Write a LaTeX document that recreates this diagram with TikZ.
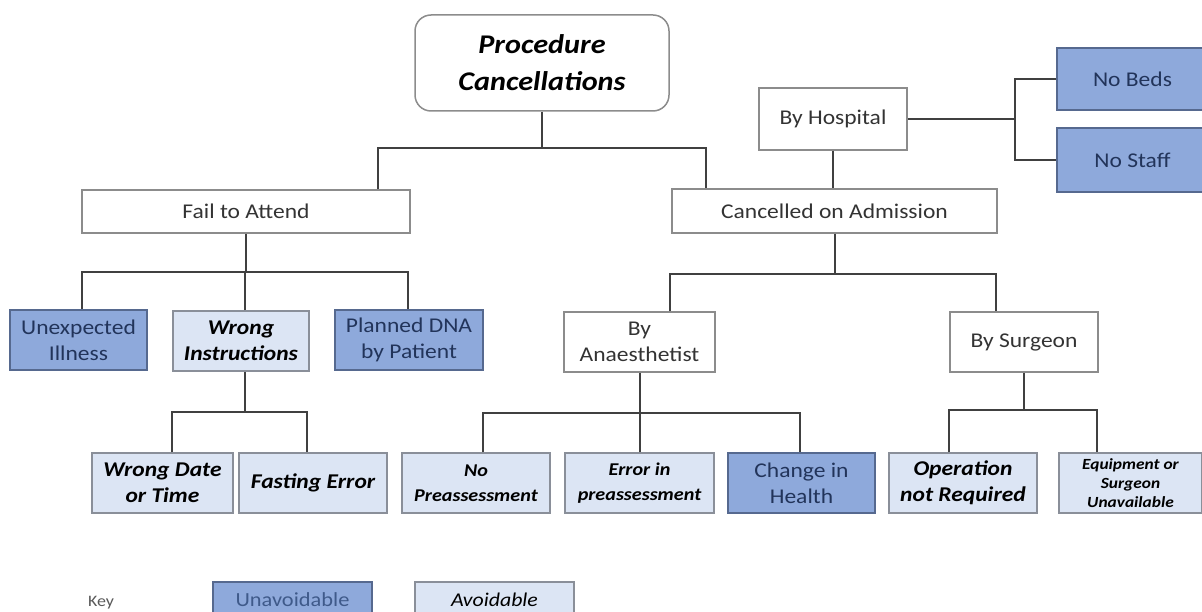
\documentclass[tikz,border=0pt]{standalone}
\usepackage{fontspec}
\setmainfont{Carlito}[FakeStretch=1.12]
\usetikzlibrary{calc}
\definecolor{darkfill}{HTML}{8EA9DB}
\definecolor{lightfill}{HTML}{DCE5F4}
\definecolor{darktext}{HTML}{22345A}
\definecolor{darkborder}{HTML}{56698F}
\definecolor{lightborder}{HTML}{8A8F99}
\definecolor{whiteborder}{HTML}{8C8C8C}
\definecolor{conn}{HTML}{404040}
\definecolor{keyblue}{HTML}{3F5A8A}
\tikzset{
  basebox/.style={rectangle, inner sep=0pt, align=center, line width=1.5pt},
  whitebox/.style={basebox, draw=whiteborder, fill=white, text=black!80,
    font=\fontsize{21}{26}\selectfont},
  darkbox/.style={basebox, draw=darkborder, fill=darkfill, text=darktext,
    font=\fontsize{21}{26}\selectfont},
  lightbox/.style={basebox, draw=lightborder, fill=lightfill, text=black,
    font=\bfseries\itshape\fontsize{21}{26}\selectfont},
  wire/.style={draw=conn, line width=2pt},
}
\begin{document}
\begin{tikzpicture}[x=1pt,y=-1pt]
\useasboundingbox (0,0) rectangle (1202,612);
% top
\node[whitebox, rounded corners=16pt, minimum width=254pt, minimum height=96pt,
  font=\bfseries\itshape\fontsize{27}{37}\selectfont, text=black] (top) at (542,63) {Procedure\\Cancellations};
\node[whitebox, minimum width=148pt, minimum height=62pt] (hosp) at (833,119) {By Hospital};
\node[darkbox, minimum width=151pt, minimum height=62pt] (beds) at (1132.5,79) {No Beds};
\node[darkbox, minimum width=151pt, minimum height=64pt] (staff) at (1132.5,160) {No Staff};
\node[whitebox, minimum width=328pt, minimum height=43pt] (fail) at (246,211.5) {Fail to Attend};
\node[whitebox, minimum width=325pt, minimum height=44pt] (cancel) at (834.5,211) {Cancelled on Admission};
% level 3
\node[darkbox, minimum width=137pt, minimum height=60pt] (unexp) at (78.5,340) {Unexpected\\Illness};
\node[lightbox, minimum width=136pt, minimum height=60pt] (wrongi) at (241,341) {Wrong\\Instructions};
\node[darkbox, minimum width=148pt, minimum height=60pt] (planned) at (409,340) {Planned DNA\\by Patient};
\node[whitebox, minimum width=151pt, minimum height=60pt] (anaes) at (639.5,342) {By\\Anaesthetist};
\node[whitebox, minimum width=148pt, minimum height=60pt] (surg) at (1024,342) {By Surgeon};
% level 4
\node[lightbox, minimum width=141pt, minimum height=60pt] (wdate) at (162.5,483) {Wrong Date\\or Time};
\node[lightbox, minimum width=148pt, minimum height=60pt] (fasting) at (313,483) {Fasting Error};
\node[lightbox, minimum width=148pt, minimum height=60pt,
  font=\bfseries\itshape\fontsize{18}{25}\selectfont] (nopre) at (476,483) {No\\Preassessment};
\node[lightbox, minimum width=149pt, minimum height=60pt,
  font=\bfseries\itshape\fontsize{18}{25}\selectfont] (errpre) at (639.5,483) {Error in\\preassessment};
\node[darkbox, minimum width=147pt, minimum height=60pt] (change) at (801.5,483) {Change in\\Health};
\node[lightbox, minimum width=148pt, minimum height=60pt] (oper) at (963,483) {Operation\\not Required};
\node[lightbox, minimum width=143pt, minimum height=60pt,
  font=\bfseries\itshape\fontsize{15.5}{19}\selectfont] (equip) at (1130.5,483) {Equipment or\\Surgeon\\Unavailable};
% key
\node[text=black!65, font=\fontsize{16}{18}\selectfont] (keylbl) at (101,603) {Key};
\node[darkbox, minimum width=159pt, minimum height=36pt, text=keyblue,
  font=\fontsize{20}{22}\selectfont] (keyU) at (292.5,600) {Unavoidable};
\node[lightbox, minimum width=159pt, minimum height=36pt,
  font=\itshape\fontsize{19.5}{22}\selectfont] (keyA) at (494.5,600) {Avoidable};
% connectors
\coordinate (b1) at (542,148);
\draw[wire] (top.south) -- (b1);
\draw[wire] ([xshift=-33pt]fail.north east) |- (b1) -| ([xshift=-128.5pt]cancel.north);
\draw[wire] (hosp.south) -- (hosp.south |- cancel.north);
\coordinate (hj) at (1015,119);
\draw[wire] (hosp.east) -- (hj);
\draw[wire] (beds.west) -| (hj) |- (staff.west);
\coordinate (b2) at (246,272);
\draw[wire] (fail.south) -- (b2);
\draw[wire] ([xshift=3.5pt]unexp.north) |- (b2) -| ([xshift=-1pt]planned.north);
\draw[wire] ([xshift=4pt]wrongi.north) -- ([xshift=4pt]wrongi.north |- b2);
\coordinate (b3) at (245,412);
\draw[wire] ([xshift=4pt]wrongi.south) -- (b3);
\draw[wire] ([xshift=9.5pt]wdate.north) |- (b3) -| ([xshift=-6pt]fasting.north);
\coordinate (b4) at (834.5,274);
\draw[wire] (cancel.south) -- (b4);
\draw[wire] ([xshift=30.5pt]anaes.north) |- (b4) -| ([xshift=-28pt]surg.north);
\coordinate (b5) at (639.5,413);
\draw[wire] (anaes.south) -- (b5);
\draw[wire] ([xshift=7pt]nopre.north) |- (b5) -| ([xshift=-1.5pt]change.north);
\draw[wire] (errpre.north) -- (b5);
\coordinate (b6) at (1024,410);
\draw[wire] (surg.south) -- (b6);
\draw[wire] ([xshift=-14pt]oper.north) |- (b6) -| ([xshift=-33.5pt]equip.north);
\end{tikzpicture}
\end{document}
